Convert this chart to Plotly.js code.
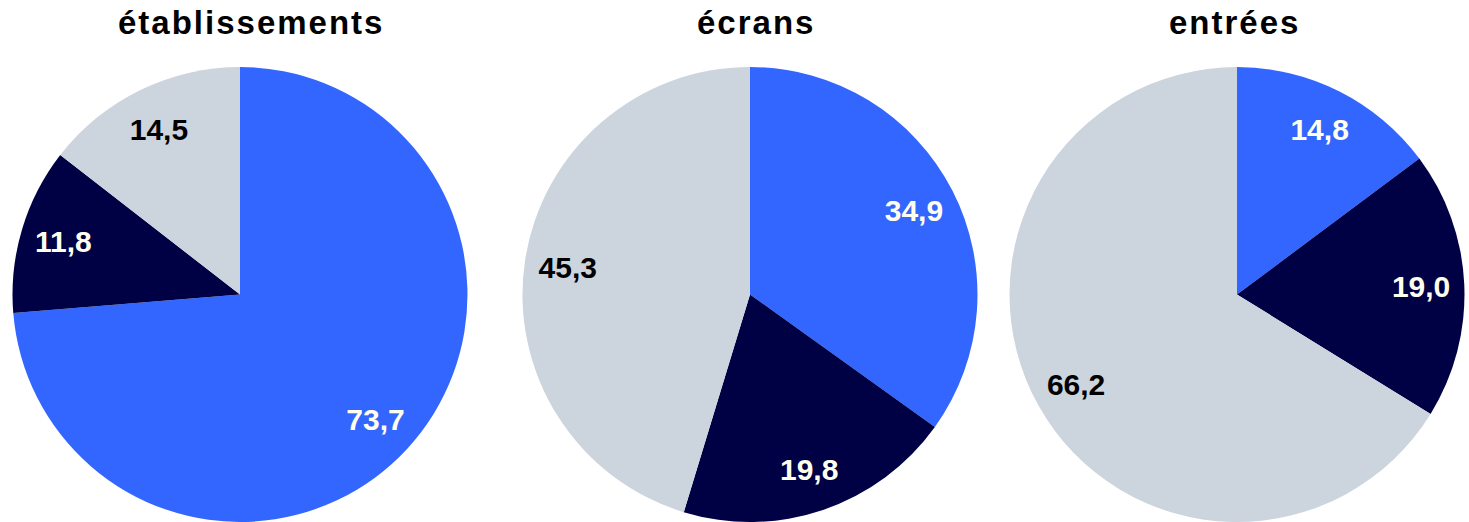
<!DOCTYPE html>
<html><head><meta charset="utf-8">
<script src="https://cdn.plot.ly/plotly-3.0.1.min.js"></script>
<style>html,body{margin:0;padding:0;background:#fff}#c{width:1469px;height:522px}
.annotation-text{letter-spacing:2px}</style>
</head><body><div id="c"></div>
<script>
const titles = ["établissements", "écrans", "entrées"];
const categories = ["bleu", "marine", "gris"];
const etablissements = [73.7, 11.8, 14.5];
const ecrans = [34.9, 19.8, 45.3];
const entrees = [14.8, 19.0, 66.2];
const colors = ["#3366FF", "#000044", "#CCD4DE"];
const textColors = ["#FFFFEE", "#FFFFEE", "#000000"];

const series = [etablissements, ecrans, entrees];
const xdom = [[12/1469, 468/1469], [522/1469, 978/1469], [1009/1469, 1465/1469]];
const ydom = [0, 0.8716];
const font = "Liberation Sans, Arial, sans-serif";

const data = [];
series.forEach((vals, i) => {
  data.push({
    type: "pie",
    labels: categories,
    values: vals,
    sort: false,
    direction: "clockwise",
    rotation: 0,
    marker: {colors: colors, line: {width: 0}},
    textinfo: "none",
    hoverinfo: "none",
    showlegend: false,
    domain: {x: xdom[i], y: ydom}
  });
  data.push({
    type: "pie",
    labels: categories,
    values: vals,
    sort: false,
    direction: "clockwise",
    rotation: 0,
    hole: 0.62,
    marker: {colors: ["rgba(0,0,0,0)", "rgba(0,0,0,0)", "rgba(0,0,0,0)"], line: {width: 0}},
    texttemplate: "<b>%{value:.1f}</b>",
    textposition: "inside",
    insidetextorientation: "horizontal",
    textfont: {family: font, size: 30, color: textColors},
    hoverinfo: "none",
    showlegend: false,
    domain: {x: xdom[i], y: ydom}
  });
});

const titleShift = [11, 6, -3];
const annotations = titles.map((t, i) => ({
  text: "<b>" + t + "</b>",
  x: (xdom[i][0] + xdom[i][1]) / 2 + titleShift[i] / 1469,
  y: 1 - 22/522,
  xref: "paper", yref: "paper",
  xanchor: "center", yanchor: "middle",
  showarrow: false,
  font: {family: font, size: 33, color: "#000"}
}));

Plotly.newPlot("c", data, {
  width: 1469, height: 522,
  margin: {l: 0, r: 0, t: 0, b: 0},
  paper_bgcolor: "#fff",
  separators: ", ",
  annotations: annotations
}, {staticPlot: true});
</script></body></html>
